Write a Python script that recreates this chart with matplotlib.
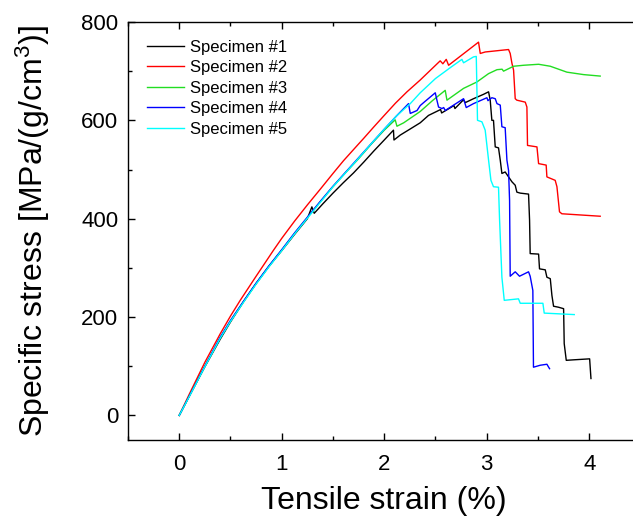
import matplotlib
matplotlib.use("Agg")
import matplotlib.pyplot as plt
from matplotlib.ticker import MultipleLocator

plt.rcParams['font.family'] = ['Liberation Sans', 'DejaVu Sans']
plt.rcParams['mathtext.default'] = 'regular'

labels = ['Specimen #1', 'Specimen #2', 'Specimen #3', 'Specimen #4', 'Specimen #5']
colors = ['#000000', '#ff0000', '#22dd22', '#0000ff', '#00ffff']

# strain (%) / specific stress (MPa/(g/cm3))
s1_x = [0, 0.1, 0.25, 0.4, 0.5, 0.63, 0.75, 0.875, 1.0, 1.125, 1.25, 1.294, 1.317,
        1.4, 1.5, 1.6, 1.7, 1.8, 1.9, 2.0, 2.09, 2.095,
        2.156, 2.25, 2.351, 2.432, 2.55, 2.56, 2.68, 2.69, 2.774, 2.79, 2.871, 2.97, 3.018,
        3.034, 3.05, 3.066, 3.083, 3.115, 3.132, 3.148, 3.18, 3.213, 3.246, 3.278,
        3.294, 3.327, 3.408, 3.418, 3.424, 3.506, 3.515, 3.571, 3.587, 3.62, 3.636,
        3.652, 3.70, 3.75, 3.756, 3.776, 3.848, 4.004, 4.017]
s1_y = [0, 40, 99, 155, 190, 232, 268, 303, 335, 368, 400, 424, 411,
        430, 452, 473, 493, 515, 538, 560, 580, 560,
        570, 582, 595, 610, 622, 615, 630, 624, 642, 636, 644, 653, 658,
        641, 600, 600, 546, 544, 519, 492, 495, 485, 475, 468,
        454, 452, 450, 397, 329, 328, 298, 296, 281, 278, 244,
        222, 220, 217, 146, 112, 113, 115, 75]

s2_x = [0, 0.1, 0.25, 0.4, 0.5, 0.595, 0.75, 0.92, 1.0, 1.125, 1.25, 1.376, 1.5, 1.603,
        1.75, 1.798, 1.9, 2.0, 2.11, 2.222, 2.351, 2.546, 2.572, 2.605, 2.628, 2.92,
        2.937, 2.985, 3.213, 3.229, 3.246, 3.262, 3.278, 3.294, 3.376, 3.392, 3.398,
        3.49, 3.506, 3.58, 3.587, 3.668, 3.685, 3.71, 3.733, 4.107]
s2_y = [0, 44, 108, 166, 202, 234, 283, 336, 360, 395, 428, 460, 492, 518,
        552, 563, 587, 610, 635, 658, 682, 721, 715, 724, 712, 759,
        736, 739, 744, 736, 716, 702, 644, 641, 637, 627, 549,
        546, 512, 509, 485, 478, 465, 414, 410, 405]

s3_x = [0, 0.1, 0.25, 0.4, 0.5, 0.63, 0.75, 0.875, 1.0, 1.125, 1.25, 1.375, 1.5,
        1.625, 1.75, 1.875, 2.0, 2.107, 2.124, 2.19, 2.351, 2.47,
        2.595, 2.612, 2.774, 2.904, 3.018, 3.1, 3.15, 3.164, 3.262, 3.36, 3.506,
        3.62, 3.782, 3.945, 4.107]
s3_y = [0, 40, 100, 158, 192, 232, 268, 303, 336, 370, 402, 434, 465,
        494, 522, 552, 580, 601, 588, 595, 618, 640,
        661, 641, 665, 678, 695, 703, 704, 700, 710, 712, 714,
        710, 698, 693, 690]

s4_x = [0, 0.1, 0.25, 0.4, 0.5, 0.63, 0.75, 0.875, 1.0, 1.125, 1.25, 1.375, 1.5,
        1.625, 1.75, 1.875, 2.0, 2.12, 2.237, 2.254, 2.32, 2.351,
        2.384, 2.498, 2.514, 2.53, 2.563, 2.58, 2.595, 2.774, 2.80, 2.871, 3.002,
        3.012, 3.05, 3.083, 3.1, 3.132, 3.148, 3.18, 3.197, 3.213, 3.223, 3.229,
        3.278, 3.32, 3.408, 3.424, 3.45, 3.456, 3.522, 3.587, 3.613]
s4_y = [0, 40, 100, 159, 193, 233, 269, 304, 337, 371, 403, 435, 466,
        495, 524, 553, 582, 609, 634, 614, 620, 630,
        636, 656, 641, 627, 624, 626, 620, 644, 626, 634, 646,
        640, 646, 644, 634, 631, 587, 585, 519, 498, 437, 283,
        292, 283, 292, 283, 254, 98, 102, 104, 95]

s5_x = [0, 0.1, 0.25, 0.4, 0.5, 0.63, 0.75, 0.875, 1.0, 1.125, 1.25, 1.375, 1.5,
        1.625, 1.75, 1.875, 2.0, 2.12, 2.254, 2.351, 2.5, 2.65,
        2.758, 2.774, 2.871, 2.898, 2.91, 2.953, 2.985, 3.018, 3.041, 3.066, 3.115,
        3.125, 3.148, 3.171, 3.31, 3.327, 3.548, 3.561, 3.854]
s5_y = [0, 39, 99, 157, 191, 231, 267, 302, 335, 369, 401, 433, 465,
        494, 523, 553, 582, 609, 634, 656, 685, 708,
        724, 717, 729, 730, 600, 597, 580, 519, 478, 465, 464,
        400, 281, 234, 237, 228, 228, 208, 205]

xs = [s1_x, s2_x, s3_x, s4_x, s5_x]
ys = [s1_y, s2_y, s3_y, s4_y, s5_y]

fig = plt.figure(figsize=(6.33, 5.21), dpi=100)
ax = fig.add_axes([0.2022, 0.1555, 0.8096, 0.8023])

for x, y, c, lab in zip(xs, ys, colors, labels):
    ax.plot(x, y, color=c, lw=1.0, label=lab)

ax.set_xlim(-0.5, 4.5)
ax.set_ylim(-50, 800)
ax.xaxis.set_major_locator(MultipleLocator(1))
ax.xaxis.set_minor_locator(MultipleLocator(0.5))
ax.yaxis.set_major_locator(MultipleLocator(200))
ax.yaxis.set_minor_locator(MultipleLocator(100))
ax.tick_params(which='both', direction='in', top=True, right=True, width=1.0)
ax.tick_params(which='major', length=5, labelsize=16, pad=7)
ax.tick_params(axis='x', which='major', pad=10)
ax.tick_params(which='minor', length=3)
for sp in ax.spines.values():
    sp.set_linewidth(1.0)

ax.set_xlabel('Tensile strain (%)', fontsize=23)
ax.set_ylabel('Specific stress [MPa/(g/cm$^3$)]', fontsize=23)
ax.xaxis.set_label_coords(0.5, -0.11)
ax.yaxis.set_label_coords(-0.148, 0.5)

ax.legend(loc='upper left', bbox_to_anchor=(0.037, 0.958), frameon=False,
          fontsize=12, handlelength=2.2, handletextpad=0.4, labelspacing=0.33,
          borderpad=0, borderaxespad=0)

fig.savefig('out.png', dpi=100)
